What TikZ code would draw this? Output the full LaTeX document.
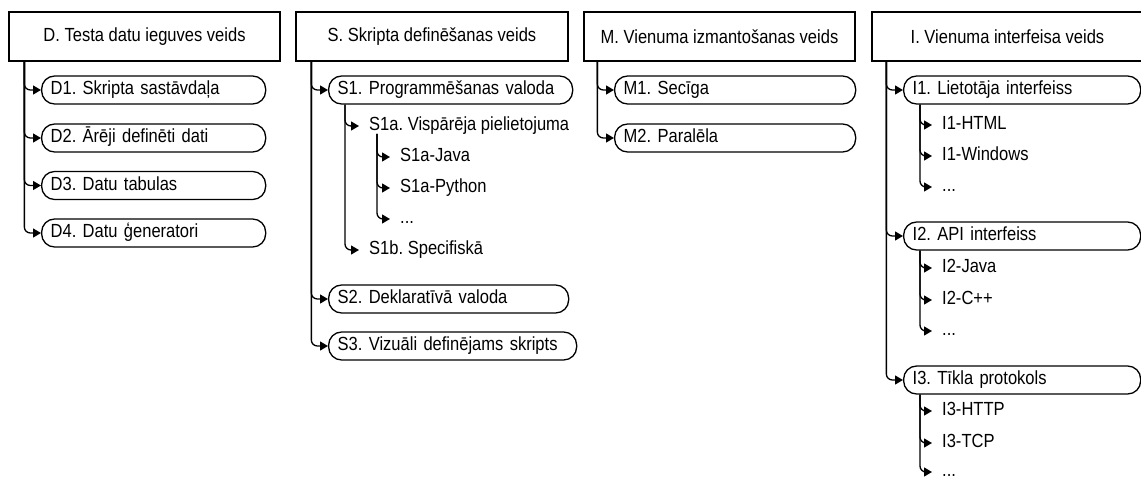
\documentclass[tikz,border=0pt]{standalone}
\usepackage{fontspec}
\setmainfont{Liberation Sans}[FakeStretch=0.87]
\usetikzlibrary{arrows.meta}

\begin{document}
\frenchspacing
\begin{tikzpicture}[x=1pt, y=-1pt,
  every node/.style={font=\fontsize{19}{22}\selectfont},
  catbox/.style={draw, line width=1.3pt, rectangle, minimum width=271pt,
    minimum height=49pt, inner sep=0pt},
  pill/.style={draw, line width=1.3pt, rounded corners=13pt, anchor=west,
    align=left, text width=#1, minimum height=28pt, inner xsep=9pt,
    inner ysep=0pt, text height=13.5pt, text depth=4pt},
  item/.style={anchor=west, inner xsep=10pt, inner ysep=3pt,
    text height=13.5pt, text depth=4pt},
  conn/.style={line width=1.3pt, rounded corners=6pt,
    -{Triangle[length=8pt, width=9pt]}}
]
\useasboundingbox (0,0) rectangle (1141,482);

% ---- category boxes ----
\node[catbox] (D) at (144.5,36.5) {D. Testa datu ieguves veids};
\node[catbox, minimum width=272pt] (S) at (432,36.5) {S. Skripta definēšanas veids};
\node[catbox] (M) at (719.5,36.5) {M. Vienuma izmantošanas veids};
\node[catbox] (I) at (1007.5,36.5) {I. Vienuma interfeisa veids};

% ---- D column ----
\node[pill=206pt] (D1) at (41,90) {D1. Skripta sastāvdaļa};
\node[pill=206pt] (D2) at (41,138) {D2. Ārēji definēti dati};
\node[pill=206pt] (D3) at (41,185.5) {D3. Datu tabulas};
\node[pill=206pt] (D4) at (41,233) {D4. Datu ģeneratori};
\foreach \c in {D1,D2,D3,D4}
  \draw[conn] ([xshift=16pt]D.south west) |- (\c.west);

% ---- S column ----
\node[pill=226pt] (S1) at (328,90) {S1. Programmēšanas valoda};
\node[item] (S1a) at (359,126) {S1a. Vispārēja pielietojuma};
\node[item] (S1aJ) at (390,157) {S1a-Java};
\node[item] (S1aP) at (390,188) {S1a-Python};
\node[item] (S1aX) at (390,219) {...};
\node[item] (S1b) at (359,250) {S1b. Specifiskā};
\node[pill=222pt] (S2) at (328,299) {S2. Deklaratīvā valoda};
\node[pill=230pt] (S3) at (328,346) {S3. Vizuāli definējams skripts};
\foreach \c in {S1,S2,S3}
  \draw[conn] ([xshift=16pt]S.south west) |- (\c.west);
\foreach \c in {S1a,S1b}
  \draw[conn] ([xshift=17pt]S1.south west) |- (\c.west);
\foreach \c in {S1aJ,S1aP,S1aX}
  \draw[conn] ([shift={(18pt,4pt)}]S1a.south west) |- (\c.west);

% ---- M column ----
\node[pill=223pt] (M1) at (614,90) {M1. Secīga};
\node[pill=223pt] (M2) at (614,138) {M2. Paralēla};
\foreach \c in {M1,M2}
  \draw[conn] ([xshift=14pt]M.south west) |- (\c.west);

% ---- I column ----
\node[pill=219pt] (I1) at (903,90) {I1. Lietotāja interfeiss};
\node[item] (I1a) at (932,125) {I1-HTML};
\node[item] (I1b) at (932,156) {I1-Windows};
\node[item] (I1c) at (932,187) {...};
\node[pill=219pt] (I2) at (903,236) {I2. API interfeiss};
\node[item] (I2a) at (932,268) {I2-Java};
\node[item] (I2b) at (932,300) {I2-C++};
\node[item] (I2c) at (932,331) {...};
\node[pill=219pt] (I3) at (903,380) {I3. Tīkla protokols};
\node[item] (I3a) at (932,411) {I3-HTTP};
\node[item] (I3b) at (932,443) {I3-TCP};
\node[item] (I3c) at (932,472) {...};
\foreach \c in {I1,I2,I3}
  \draw[conn] ([xshift=15pt]I.south west) |- (\c.west);
\foreach \p/\c in {I1/I1a,I1/I1b,I1/I1c,I2/I2a,I2/I2b,I2/I2c,I3/I3a,I3/I3b,I3/I3c}
  \draw[conn] ([xshift=17pt]\p.south west) |- (\c.west);
\end{tikzpicture}
\end{document}
